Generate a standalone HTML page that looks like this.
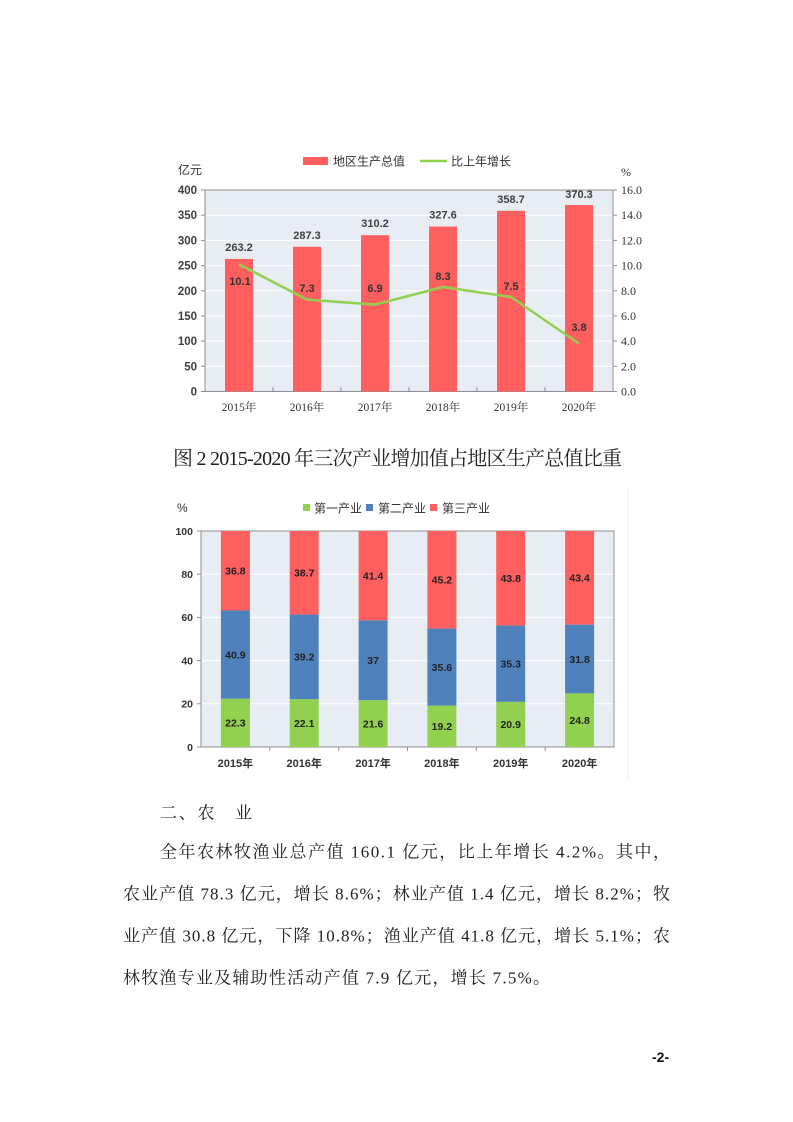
<!DOCTYPE html>
<html><head><meta charset="utf-8"><style>
html,body{margin:0;padding:0;background:#fff;width:793px;height:1122px;overflow:hidden}
svg{display:block}
.sn{font-family:"Liberation Sans","Noto Sans CJK SC",sans-serif}
.nb{font-family:"Liberation Sans",sans-serif;font-weight:bold}
.sf{font-family:"Liberation Serif","Noto Serif CJK SC",serif}
</style></head><body>
<svg width="793" height="1122" viewBox="0 0 793 1122" xmlns="http://www.w3.org/2000/svg">
<!-- ===== Chart 1 ===== -->
<rect x="303" y="157" width="25" height="8" fill="#FF5F5F"/>
<text x="333" y="165.5" class="sn" font-size="12" fill="#333">地区生产总值</text>
<line x1="420" y1="161" x2="447" y2="161" stroke="#92D050" stroke-width="2.5"/>
<text x="451" y="165.5" class="sn" font-size="12" fill="#333">比上年增长</text>
<text x="178" y="174" class="sn" font-size="12" fill="#333">亿元</text>
<text x="621" y="176" class="sf" font-size="12" fill="#333">%</text>
<rect x="205" y="190" width="408" height="201.5" fill="#E8EDF4"/>
<g stroke="#fff" stroke-width="1">
<line x1="205" y1="366.3" x2="613" y2="366.3"/>
<line x1="205" y1="341.1" x2="613" y2="341.1"/>
<line x1="205" y1="315.9" x2="613" y2="315.9"/>
<line x1="205" y1="290.75" x2="613" y2="290.75"/>
<line x1="205" y1="265.6" x2="613" y2="265.6"/>
<line x1="205" y1="240.4" x2="613" y2="240.4"/>
<line x1="205" y1="215.2" x2="613" y2="215.2"/>
</g>
<rect x="205" y="190" width="408" height="201.5" fill="none" stroke="#8f8f8f" stroke-width="1"/>
<g stroke="#8f8f8f" stroke-width="1">
<line x1="201" y1="391.5" x2="205" y2="391.5"/><line x1="201" y1="366.3" x2="205" y2="366.3"/><line x1="201" y1="341.1" x2="205" y2="341.1"/><line x1="201" y1="315.9" x2="205" y2="315.9"/><line x1="201" y1="290.75" x2="205" y2="290.75"/><line x1="201" y1="265.6" x2="205" y2="265.6"/><line x1="201" y1="240.4" x2="205" y2="240.4"/><line x1="201" y1="215.2" x2="205" y2="215.2"/><line x1="201" y1="190" x2="205" y2="190"/>
<line x1="613" y1="391.5" x2="617" y2="391.5"/><line x1="613" y1="366.3" x2="617" y2="366.3"/><line x1="613" y1="341.1" x2="617" y2="341.1"/><line x1="613" y1="315.9" x2="617" y2="315.9"/><line x1="613" y1="290.75" x2="617" y2="290.75"/><line x1="613" y1="265.6" x2="617" y2="265.6"/><line x1="613" y1="240.4" x2="617" y2="240.4"/><line x1="613" y1="215.2" x2="617" y2="215.2"/><line x1="613" y1="190" x2="617" y2="190"/>
<line x1="273" y1="387" x2="273" y2="391.5"/><line x1="341" y1="387" x2="341" y2="391.5"/><line x1="409" y1="387" x2="409" y2="391.5"/><line x1="477" y1="387" x2="477" y2="391.5"/><line x1="545" y1="387" x2="545" y2="391.5"/>
</g>
<g fill="#FF5F5F">
<rect x="225" y="258.9" width="28" height="132.6"/>
<rect x="293" y="246.8" width="28" height="144.7"/>
<rect x="361" y="235.2" width="28" height="156.3"/>
<rect x="429" y="226.5" width="28" height="165"/>
<rect x="497" y="210.8" width="28" height="180.7"/>
<rect x="565" y="205" width="28" height="186.5"/>
</g>
<polyline points="239,264.3 307,299.6 375,304.6 443,287 511,297 579,343.6" fill="none" stroke="#92D050" stroke-width="2.5" stroke-linejoin="round"/>
<g class="nb" font-size="11" fill="#404040" text-anchor="middle">
<text x="239" y="251">263.2</text>
<text x="307" y="239">287.3</text>
<text x="375" y="227">310.2</text>
<text x="443" y="218.5">327.6</text>
<text x="511" y="203">358.7</text>
<text x="579" y="198">370.3</text>
</g>
<g class="nb" font-size="11" fill="#333" text-anchor="middle">
<text x="240" y="285">10.1</text>
<text x="307" y="292">7.3</text>
<text x="375" y="292">6.9</text>
<text x="443" y="280">8.3</text>
<text x="511" y="290">7.5</text>
<text x="579" y="331">3.8</text>
</g>
<g class="nb" font-size="11.5" fill="#404040" text-anchor="end">
<text x="197" y="395.5">0</text>
<text x="197" y="370.3">50</text>
<text x="197" y="345.1">100</text>
<text x="197" y="319.9">150</text>
<text x="197" y="294.75">200</text>
<text x="197" y="269.6">250</text>
<text x="197" y="244.4">300</text>
<text x="197" y="219.2">350</text>
<text x="197" y="194">400</text>
</g>
<g class="sf" font-size="12" fill="#333">
<text x="621" y="395.5">0.0</text>
<text x="621" y="370.3">2.0</text>
<text x="621" y="345.1">4.0</text>
<text x="621" y="319.9">6.0</text>
<text x="621" y="294.75">8.0</text>
<text x="621" y="269.6">10.0</text>
<text x="621" y="244.4">12.0</text>
<text x="621" y="219.2">14.0</text>
<text x="621" y="194">16.0</text>
</g>
<g class="sf" font-size="11.5" fill="#333" text-anchor="middle">
<text x="239" y="411">2015年</text>
<text x="307" y="411">2016年</text>
<text x="375" y="411">2017年</text>
<text x="443" y="411">2018年</text>
<text x="511" y="411">2019年</text>
<text x="579" y="411">2020年</text>
</g>

<!-- ===== Caption ===== -->
<text x="173" y="465" class="sf" font-size="20" fill="#222" textLength="449" lengthAdjust="spacing">图 2 2015-2020 年三次产业增加值占地区生产总值比重</text>

<!-- ===== Chart 2 ===== -->
<line x1="628" y1="488" x2="628" y2="779" stroke="#eeeeee" stroke-width="1"/>
<text x="177" y="512" class="sn" font-size="12" fill="#333">%</text>
<rect x="303" y="504" width="7" height="7" fill="#92D050"/>
<text x="314" y="512.5" class="sn" font-size="12" fill="#333">第一产业</text>
<rect x="366" y="504" width="7" height="7" fill="#4F81BD"/>
<text x="378" y="512.5" class="sn" font-size="12" fill="#333">第二产业</text>
<rect x="430" y="504" width="7" height="7" fill="#FF5F5F"/>
<text x="442" y="512.5" class="sn" font-size="12" fill="#333">第三产业</text>

<rect x="201" y="531" width="413" height="216" fill="#E8EDF4"/>
<g stroke="#fff" stroke-width="1">
<line x1="201" y1="703.8" x2="614" y2="703.8"/>
<line x1="201" y1="660.6" x2="614" y2="660.6"/>
<line x1="201" y1="617.4" x2="614" y2="617.4"/>
<line x1="201" y1="574.2" x2="614" y2="574.2"/>
</g>
<rect x="201" y="531" width="413" height="216" fill="none" stroke="#8f8f8f" stroke-width="1"/>
<g stroke="#8f8f8f" stroke-width="1">
<line x1="197" y1="747" x2="201" y2="747"/><line x1="197" y1="703.8" x2="201" y2="703.8"/><line x1="197" y1="660.6" x2="201" y2="660.6"/><line x1="197" y1="617.4" x2="201" y2="617.4"/><line x1="197" y1="574.2" x2="201" y2="574.2"/><line x1="197" y1="531" x2="201" y2="531"/>
<line x1="269.8" y1="747" x2="269.8" y2="751"/><line x1="338.7" y1="747" x2="338.7" y2="751"/><line x1="407.5" y1="747" x2="407.5" y2="751"/><line x1="476.3" y1="747" x2="476.3" y2="751"/><line x1="545.2" y1="747" x2="545.2" y2="751"/>
</g>
<g>
<rect x="220.9" y="531" width="29" height="79.5" fill="#FF5F5F"/>
<rect x="220.9" y="610.5" width="29" height="88.3" fill="#4F81BD"/>
<rect x="220.9" y="698.8" width="29" height="48.2" fill="#92D050"/>

<rect x="289.7" y="531" width="29" height="83.6" fill="#FF5F5F"/>
<rect x="289.7" y="614.6" width="29" height="84.7" fill="#4F81BD"/>
<rect x="289.7" y="699.3" width="29" height="47.7" fill="#92D050"/>

<rect x="358.6" y="531" width="29" height="89.4" fill="#FF5F5F"/>
<rect x="358.6" y="620.4" width="29" height="79.9" fill="#4F81BD"/>
<rect x="358.6" y="700.3" width="29" height="46.7" fill="#92D050"/>

<rect x="427.4" y="531" width="29" height="97.6" fill="#FF5F5F"/>
<rect x="427.4" y="628.6" width="29" height="76.9" fill="#4F81BD"/>
<rect x="427.4" y="705.5" width="29" height="41.5" fill="#92D050"/>

<rect x="496.2" y="531" width="29" height="94.6" fill="#FF5F5F"/>
<rect x="496.2" y="625.6" width="29" height="76.3" fill="#4F81BD"/>
<rect x="496.2" y="701.9" width="29" height="45.1" fill="#92D050"/>

<rect x="565.1" y="531" width="29" height="93.7" fill="#FF5F5F"/>
<rect x="565.1" y="624.7" width="29" height="68.7" fill="#4F81BD"/>
<rect x="565.1" y="693.4" width="29" height="53.6" fill="#92D050"/>
</g>
<g class="nb" font-size="10.5" fill="#222" text-anchor="middle">
<text x="235.4" y="574.5">36.8</text><text x="235.4" y="658.5">40.9</text><text x="235.4" y="726.7">22.3</text>
<text x="304.2" y="576.6">38.7</text><text x="304.2" y="660.7">39.2</text><text x="304.2" y="726.9">22.1</text>
<text x="373.1" y="579.5">41.4</text><text x="373.1" y="664.2">37</text><text x="373.1" y="727.5">21.6</text>
<text x="441.9" y="583.6">45.2</text><text x="441.9" y="670.9">35.6</text><text x="441.9" y="730.1">19.2</text>
<text x="510.7" y="582.1">43.8</text><text x="510.7" y="667.5">35.3</text><text x="510.7" y="728.2">20.9</text>
<text x="579.6" y="581.7">43.4</text><text x="579.6" y="662.9">31.8</text><text x="579.6" y="724">24.8</text>
</g>
<g class="nb" font-size="10.5" fill="#333" text-anchor="end">
<text x="193" y="750.8">0</text>
<text x="193" y="707.6">20</text>
<text x="193" y="664.4">40</text>
<text x="193" y="621.2">60</text>
<text x="193" y="578">80</text>
<text x="193" y="534.8">100</text>
</g>
<g font-family="Liberation Sans,'Noto Sans CJK SC',sans-serif" font-weight="bold" font-size="11" fill="#333" text-anchor="middle">
<text x="235.4" y="767">2015年</text>
<text x="304.2" y="767">2016年</text>
<text x="373.1" y="767">2017年</text>
<text x="441.9" y="767">2018年</text>
<text x="510.7" y="767">2019年</text>
<text x="579.6" y="767">2020年</text>
</g>

<!-- ===== Body text ===== -->
<g class="sf" font-size="17" fill="#222">
<text x="160" y="818.5" textLength="92" lengthAdjust="spacing">二、农　业</text>
<text x="160" y="857.5" textLength="510" lengthAdjust="spacing">全年农林牧渔业总产值 160.1 亿元，比上年增长 4.2%。其中，</text>
<text x="123" y="899.5" textLength="547" lengthAdjust="spacing">农业产值 78.3 亿元，增长 8.6%；林业产值 1.4 亿元，增长 8.2%；牧</text>
<text x="123" y="941.5" textLength="547" lengthAdjust="spacing">业产值 30.8 亿元，下降 10.8%；渔业产值 41.8 亿元，增长 5.1%；农</text>
<text x="123" y="983.5" textLength="427" lengthAdjust="spacing">林牧渔专业及辅助性活动产值 7.9 亿元，增长 7.5%。</text>
</g>
<text x="652" y="1062" class="sn" font-size="14" font-weight="bold" fill="#111">-2-</text>
</svg>
</body></html>
